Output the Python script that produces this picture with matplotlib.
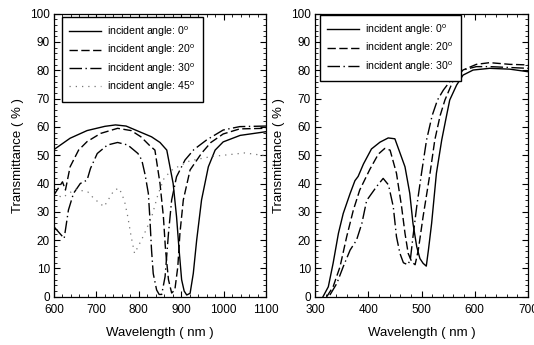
import matplotlib
matplotlib.use('Agg')
import matplotlib.pyplot as plt
from matplotlib.ticker import MultipleLocator

plt.rcParams['font.family'] = ['Liberation Sans', 'DejaVu Sans']
plt.rcParams['mathtext.fontset'] = 'custom'
plt.rcParams['mathtext.rm'] = 'Liberation Sans'

# Left panel (600-1100 nm)
l0_nm = [600, 638, 678, 720, 745, 770, 800, 830, 850, 866, 881, 889, 895, 901, 907, 913,
         921, 928.5, 936.5, 948, 964, 980, 999, 1039, 1100]
l0_t = [52, 56, 58.7, 60.2, 60.7, 60.3, 58.4, 56.5, 54.5, 51.8, 40, 28.3, 16.6, 6, 2, 0.6,
        1.2, 8.2, 20, 34.2, 45.9, 51.8, 54.7, 57, 58.3]

l20_nm = [600, 620, 627, 638, 658, 678, 710, 750, 782, 805, 825, 838, 850, 858, 863, 870,
          877.5, 885, 892, 897, 905, 921, 948, 970, 999, 1038, 1100]
l20_t = [36, 40.6, 37.7, 45.9, 51.8, 54.8, 57.7, 59.5, 58.7, 56.5, 53.5, 51.8, 40, 28.3, 16.6, 6,
         1.3, 2.4, 10.6, 22.4, 34.2, 44.8, 50.7, 54.5, 57.5, 59.3, 59.5]

l30_nm = [600, 624, 634, 646, 662, 678, 686, 702, 726, 750, 774, 798, 807, 815, 822.5, 826,
          830, 834, 842, 848, 854, 862, 870, 877.5, 889, 909, 930, 960, 999, 1038, 1100]
l30_t = [24.7, 20.6, 30.6, 36.5, 40, 41.2, 45.3, 50.6, 53.6, 54.5, 53.6, 50.6, 48.3, 43, 36.5, 28,
         16.6, 8.2, 2.4, 0.8, 0.8, 7.1, 22.4, 34.2, 42.4, 48.3, 52, 55.4, 58.9, 60.1, 60.3]

l45_nm = [600, 620, 650, 680, 694, 718, 742, 754, 766, 774, 782, 790, 802, 810, 830, 845,
          860, 880, 920, 970, 1050, 1100]
l45_t = [36.5, 35, 38, 37, 34.7, 31.8, 37.7, 38.3, 34, 28.3, 21.2, 15.3, 18.8, 21.2, 28, 36,
         42, 45, 48, 49.5, 50.8, 49.8]

# Right panel (300-700 nm)
r0_nm = [315, 325, 334, 344, 353, 366, 375, 381, 391, 406, 422, 437.5, 450, 469, 478, 484,
         491, 497, 503, 509, 513, 519, 528, 538, 546, 553, 566, 578, 597, 628, 666, 700]
r0_t = [0, 3.5, 11.8, 22.4, 29.4, 36.5, 41, 42.5, 46.9, 52.2, 54.6, 56.1, 55.8, 45.9, 36.5, 25.9,
        17.7, 13.5, 11.8, 10.8, 16.5, 25.9, 43.6, 55.4, 63, 69.5, 74.8, 78.3, 80.1, 80.7, 80.4, 79.5]

r20_nm = [322, 334, 347, 359.5, 372, 384, 403, 419, 431, 441, 453, 462.6, 469, 475, 482, 488,
          494, 503, 516, 525, 535, 544, 560, 578, 603, 628, 666, 700]
r20_t = [0, 3.5, 10.6, 21.2, 30.6, 37.7, 45, 50.4, 52.4, 51.8, 43.6, 31.8, 22.4, 15.3, 12.2, 11.3,
         16.5, 28.3, 43.6, 55.4, 64, 69.5, 76.6, 80.1, 82.1, 82.7, 82.1, 81.9]

r30_nm = [328, 341, 353, 366, 378, 388, 397, 416, 428, 438, 447, 453, 459.5, 466, 474, 479,
          484, 491, 500, 509.5, 520, 530, 541, 560, 578, 603, 628, 700]
r30_t = [0.6, 4.7, 10.6, 16.5, 20, 25.9, 34, 39, 41.8, 39.5, 31.8, 21.2, 15.3, 12, 11.3, 13,
         21.2, 31.8, 43.6, 55.4, 64, 69.5, 73, 77.7, 80.1, 81.3, 81.3, 80.7]

labels = [r'incident angle: 0$^{\rm o}$', r'incident angle: 20$^{\rm o}$',
          r'incident angle: 30$^{\rm o}$', r'incident angle: 45$^{\rm o}$']

dash = (0, (6, 2.5))
dashdot = (0, (9, 2.5, 1, 2.5))
dots = (0, (1, 4))

fig = plt.figure(figsize=(5.34, 3.45), dpi=100)
ax1 = fig.add_axes([54 / 534, 48.3 / 345, 212 / 534, 283 / 345])
ax2 = fig.add_axes([315 / 534, 48.3 / 345, 213 / 534, 283 / 345])

ax1.plot(l0_nm, l0_t, color='black', lw=1.0, label=labels[0])
ax1.plot(l20_nm, l20_t, color='black', lw=1.0, linestyle=dash, label=labels[1])
ax1.plot(l30_nm, l30_t, color='black', lw=1.0, linestyle=dashdot, label=labels[2])
ax1.plot(l45_nm, l45_t, color='#777777', lw=0.9, linestyle=dots, label=labels[3])

ax2.plot(r0_nm, r0_t, color='black', lw=1.0, label=labels[0])
ax2.plot(r20_nm, r20_t, color='black', lw=1.0, linestyle=dash, label=labels[1])
ax2.plot(r30_nm, r30_t, color='black', lw=1.0, linestyle=dashdot, label=labels[2])

for ax, lo, hi in [(ax1, 600, 1100), (ax2, 300, 700)]:
    ax.set_xlim(lo, hi)
    ax.set_ylim(0, 100)
    ax.xaxis.set_major_locator(MultipleLocator(100))
    ax.xaxis.set_minor_locator(MultipleLocator(20))
    ax.yaxis.set_major_locator(MultipleLocator(10))
    ax.yaxis.set_minor_locator(MultipleLocator(2))
    ax.tick_params(which='both', direction='in', top=True, right=True, labelsize=8.5)
    ax.tick_params(axis='x', pad=5)
    ax.tick_params(axis='y', pad=3)
    ax.tick_params(which='major', length=4, width=0.8)
    ax.tick_params(which='minor', length=2, width=0.6)
    for s in ax.spines.values():
        s.set_linewidth(0.9)
    ax.set_xlabel('Wavelength ( nm )', fontsize=9.5, labelpad=8)
    ax.set_ylabel('Transmittance ( % )', fontsize=9.5, labelpad=4)

leg_kw = dict(loc='upper left', fontsize=7.6, frameon=True, fancybox=False,
              edgecolor='black', handlelength=3.0, labelspacing=0.38, borderpad=0.7,
              handletextpad=0.6, framealpha=1, borderaxespad=0)
ax1.legend(bbox_to_anchor=(0.038, 0.988), **leg_kw)
ax2.legend(bbox_to_anchor=(0.023, 0.995), **leg_kw)

fig.savefig('out.png', dpi=100)
